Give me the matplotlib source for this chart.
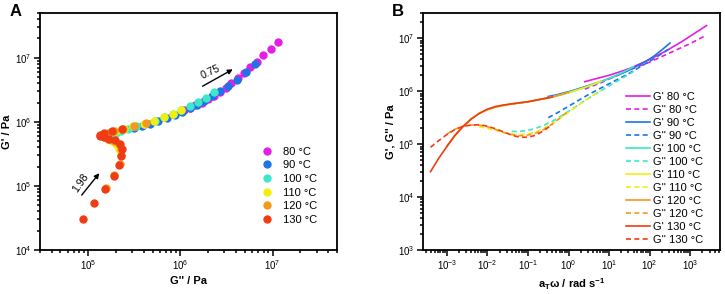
import numpy as np
import matplotlib
matplotlib.use('Agg')
import matplotlib.pyplot as plt
from matplotlib.ticker import LogLocator, NullFormatter

plt.rcParams['font.family'] = ['Liberation Sans', 'DejaVu Sans']
plt.rcParams['mathtext.fontset'] = 'custom'
plt.rcParams['mathtext.rm'] = 'Liberation Sans'
plt.rcParams['mathtext.it'] = 'Liberation Sans:italic'
plt.rcParams['mathtext.bf'] = 'Liberation Sans:bold'
plt.rcParams['mathtext.default'] = 'bf'

# ---------------- data (log10 values) ----------------
temps = [80, 90, 100, 110, 120, 130]
colors = ['#E41EE4', '#1E74E4', '#3CE8C8', '#F0F010', '#F5981E', '#F03C14']

logw_80 = [0.4, 0.6, 0.8, 1.0, 1.2, 1.4, 1.6, 1.8, 2.0, 2.2, 2.4, 2.6, 2.8, 3.0, 3.2, 3.4]
logGp_80 = [6.18, 6.22, 6.26, 6.30, 6.35, 6.40, 6.46, 6.53, 6.60, 6.68, 6.76, 6.85, 6.94, 7.04, 7.14, 7.24]
logGpp_80 = [6.04, 6.10, 6.16, 6.23, 6.30, 6.37, 6.43, 6.49, 6.55, 6.62, 6.69, 6.76, 6.83, 6.90, 6.98, 7.06]

logw_90 = [-0.5, -0.3, -0.1, 0.1, 0.3, 0.5, 0.7, 0.9, 1.1, 1.3, 1.5, 1.7, 1.9, 2.1, 2.3, 2.5]
logGp_90 = [5.90, 5.93, 5.97, 6.01, 6.06, 6.11, 6.16, 6.21, 6.27, 6.33, 6.40, 6.48, 6.56, 6.66, 6.78, 6.91]
logGpp_90 = [5.50, 5.58, 5.67, 5.76, 5.85, 5.94, 6.02, 6.10, 6.18, 6.26, 6.34, 6.43, 6.52, 6.61, 6.71, 6.81]

logw_100 = [-1.4, -1.2, -1.0, -0.8, -0.6, -0.4, -0.2, 0.0, 0.2, 0.4, 0.6, 0.8, 1.0, 1.2, 1.4, 1.6]
logGp_100 = [5.76, 5.78, 5.80, 5.83, 5.86, 5.89, 5.93, 5.97, 6.02, 6.07, 6.12, 6.18, 6.24, 6.31, 6.38, 6.46]
logGpp_100 = [5.24, 5.24, 5.26, 5.30, 5.36, 5.43, 5.52, 5.62, 5.72, 5.82, 5.92, 6.01, 6.10, 6.19, 6.28, 6.37]

logw_110 = [-2.2, -2.0, -1.8, -1.6, -1.4, -1.2, -1.0, -0.8, -0.6, -0.4, -0.2, 0.0, 0.2, 0.4, 0.6, 0.8]
logGp_110 = [5.58, 5.65, 5.70, 5.73, 5.76, 5.78, 5.80, 5.83, 5.86, 5.89, 5.93, 5.97, 6.02, 6.07, 6.13, 6.19]
logGpp_110 = [5.33, 5.30, 5.26, 5.22, 5.19, 5.18, 5.19, 5.23, 5.30, 5.39, 5.49, 5.60, 5.71, 5.82, 5.92, 6.01]

logw_120 = [-3.0, -2.8, -2.6, -2.4, -2.2, -2.0, -1.8, -1.6, -1.4, -1.2, -1.0, -0.8, -0.6, -0.4, -0.2, 0.0]
logGp_120 = [4.96, 5.17, 5.34, 5.48, 5.58, 5.65, 5.70, 5.73, 5.76, 5.78, 5.80, 5.83, 5.86, 5.89, 5.93, 5.98]
logGpp_120 = [5.19, 5.28, 5.34, 5.36, 5.36, 5.33, 5.28, 5.22, 5.18, 5.16, 5.17, 5.21, 5.28, 5.38, 5.50, 5.63]

logw_130 = [-3.4, -3.2, -3.0, -2.8, -2.6, -2.4, -2.2, -2.0, -1.8, -1.6, -1.4, -1.2, -1.0, -0.8, -0.6, -0.4]
logGp_130 = [4.48, 4.73, 4.95, 5.16, 5.33, 5.47, 5.58, 5.66, 5.71, 5.74, 5.76, 5.78, 5.80, 5.83, 5.86, 5.89]
logGpp_130 = [4.94, 5.065, 5.18, 5.275, 5.337, 5.36, 5.366, 5.34, 5.29, 5.23, 5.17, 5.13, 5.13, 5.17, 5.26, 5.37]

logw_all = [logw_80, logw_90, logw_100, logw_110, logw_120, logw_130]
logGp_all = [logGp_80, logGp_90, logGp_100, logGp_110, logGp_120, logGp_130]
logGpp_all = [logGpp_80, logGpp_90, logGpp_100, logGpp_110, logGpp_120, logGpp_130]

slope_labels = ['0.75', '1.98']

# ---------------- figure ----------------
fig = plt.figure(figsize=(7.25, 2.94), dpi=100)
axA = fig.add_axes([40/725, 1-250/294, 297/725, 237/294])
axB = fig.add_axes([423/725, 1-250/294, 297/725, 237/294])


def style(ax):
    ax.set_xscale('log')
    ax.set_yscale('log')
    for s in ax.spines.values():
        s.set_linewidth(1.3)
    ax.tick_params(which='both', direction='out', top=False, right=False,
                   labelsize=7, width=1.1)
    ax.tick_params(which='major', length=4, pad=2)
    ax.tick_params(which='minor', length=2)
    ax.xaxis.set_major_locator(LogLocator(base=10, numticks=20))
    ax.yaxis.set_major_locator(LogLocator(base=10, numticks=20))
    ax.xaxis.set_minor_locator(LogLocator(base=10, subs=np.arange(2, 10), numticks=100))
    ax.yaxis.set_minor_locator(LogLocator(base=10, subs=np.arange(2, 10), numticks=100))
    ax.xaxis.set_minor_formatter(NullFormatter())
    ax.yaxis.set_minor_formatter(NullFormatter())


# ---- Panel A ----
style(axA)
for T, c, gp, gpp in zip(temps, colors, logGp_all, logGpp_all):
    axA.plot(10**np.array(gpp), 10**np.array(gp), 'o', color=c, ms=6.0,
             mec='none', label=f'{T} °C')
axA.set_xlim(3e4, 5e7)
axA.set_ylim(1e4, 5e7)
axA.set_xlabel("G'' / Pa", fontsize=8, fontweight='bold', labelpad=3)
axA.set_ylabel("G' / Pa", fontsize=8, fontweight='bold', labelpad=2)
axA.annotate('', xy=(3.7e6, 6.6e6), xytext=(1.74e6, 3.6e6),
             arrowprops=dict(arrowstyle='-|>', color='black', lw=1.0,
                             mutation_scale=7, shrinkA=0, shrinkB=0))
axA.text(2.1e6, 6.0e6, slope_labels[0], fontsize=7.5, rotation=25,
         ha='center', va='center')
axA.annotate('', xy=(1.32e5, 1.58e5), xytext=(8.5e4, 7.2e4),
             arrowprops=dict(arrowstyle='-|>', color='black', lw=1.0,
                             mutation_scale=7, shrinkA=0, shrinkB=0))
axA.text(8.2e4, 1.13e5, slope_labels[1], fontsize=7.5, rotation=55,
         ha='center', va='center')
axA.legend(loc='upper left', bbox_to_anchor=(0.728, 0.455), frameon=False,
           fontsize=8, handletextpad=0.8, labelspacing=0.33, borderaxespad=0,
           handlelength=1.2, markerscale=1.0)
fig.text(10/725, 1-12/294, 'A', fontsize=12, fontweight='bold', ha='left', va='center')

# ---- Panel B ----
style(axB)
for T, c, w, gp, gpp in zip(temps, colors, logw_all, logGp_all, logGpp_all):
    axB.plot(10**np.array(w), 10**np.array(gp), '-', color=c, lw=1.2,
             label=f"G' {T} °C")
    axB.plot(10**np.array(w), 10**np.array(gpp), '--', color=c, lw=1.2,
             dashes=(3, 2), label=f"G'' {T} °C")
axB.set_xlim(2.6e-4, 5.4e3)
axB.set_ylim(1e3, 3e7)
axB.set_xlabel(r"a$_\mathbf{T}$ω / rad s$^\mathbf{-1}$", fontsize=8,
               fontweight='bold', labelpad=3)
axB.set_ylabel("G', G'' / Pa", fontsize=8, fontweight='bold', labelpad=2)
axB.legend(loc='upper left', bbox_to_anchor=(0.67, 0.685), frameon=False,
           fontsize=8, handletextpad=0.25, labelspacing=0.27, borderaxespad=0,
           handlelength=2.1)
fig.text(392/725, 1-12/294, 'B', fontsize=12, fontweight='bold', ha='left', va='center')

fig.savefig('out.png', dpi=100)
